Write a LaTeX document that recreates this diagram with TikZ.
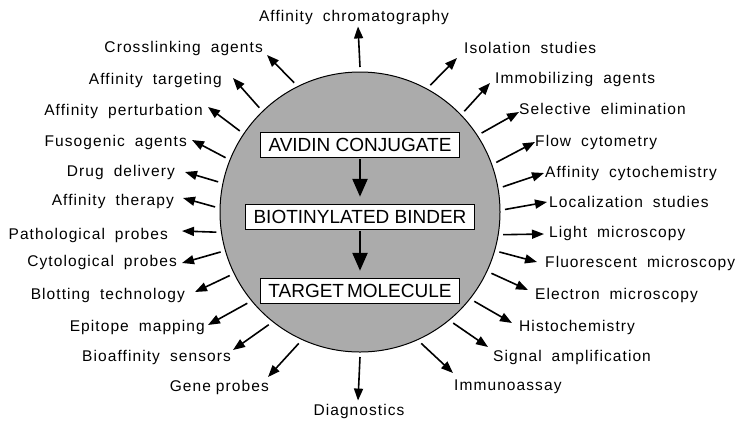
\documentclass[tikz,border=0pt]{standalone}
\usepackage{fontspec}
\usepackage{tikz}
\usetikzlibrary{arrows.meta}
\newfontfamily\lblfam{Liberation Sans}[LetterSpace=7,Ligatures=NoCommon]
\newfontfamily\boxfam{Liberation Sans}
\newcommand\lblfont{\lblfam\fontsize{15.5bp}{18bp}\selectfont\spaceskip=10bp\relax}
\newcommand\boxfont{\boxfam\fontsize{19bp}{22bp}\selectfont}
\begin{document}
\begin{tikzpicture}[x=1bp,y=-1bp,
  lbl/.style={inner sep=0pt,font=\lblfont},
  ray/.style={line width=1.6bp,-{Triangle[length=12bp,width=9bp]}},
  stage/.style={draw,line width=1.5bp,fill=white,inner xsep=8bp,inner ysep=0pt,minimum height=25bp,font=\boxfont},
  flow/.style={line width=2.5bp,-{Triangle[length=18bp,width=15bp]},shorten >=7bp,shorten <=1bp}]
\useasboundingbox (0,0) rectangle (744,420);
\node[circle,draw,line width=1bp,fill=black!33,minimum size=280bp,inner sep=0pt,outer sep=5bp](hub) at (360,212){};
\node[stage,minimum width=197bp](avidin) at (360,145){AVIDIN CONJUGATE};
\node[stage,minimum width=229bp](binder) at (360,217){BIOTINYLATED BINDER};
\node[stage,minimum width=197bp](target) at (360,291){TARGET\hspace{3bp}MOLECULE};
\draw[flow](avidin)--(binder);
\draw[flow](binder)--(target);
\node[lbl](chr) at (354,17){Affinity chromatography};
\node[lbl](dia) at (359,411){Diagnostics};
\draw[ray](hub.90)--([shift={(4,2)}]chr.south);
\draw[ray](hub.270)--([shift={(-1,-3)}]dia.north);
\node[lbl,anchor=east](crl) at (263,48){Crosslinking agents};
\node[lbl,anchor=east](atg) at (222,80){Affinity targeting};
\node[lbl,anchor=east](apt) at (203,111){Affinity perturbation};
\node[lbl,anchor=east](fus) at (187,142){Fusogenic agents};
\node[lbl,anchor=east](drg) at (175,172){Drug delivery};
\node[lbl,anchor=east](ath) at (174,201){Affinity therapy};
\node[lbl,anchor=east](pth) at (168,235){Pathological probes};
\node[lbl,anchor=east](cyt) at (177,262){Cytological probes};
\node[lbl,anchor=east](blt) at (185,295){Blotting technology};
\node[lbl,anchor=east](epi) at (205,327){Epitope mapping};
\node[lbl,anchor=east](bio) at (231,357){Bioaffinity sensors};
\node[lbl,anchor=east](gen) at (269,387){Gene\hspace{5bp}probes};
\draw[ray](hub.117)--([shift={(4,7)}]crl.east);
\draw[ray](hub.134)--([shift={(11,-2)}]atg.east);
\draw[ray](hub.146)--([shift={(5,-4)}]apt.east);
\draw[ray](hub.158)--([shift={(5,-2)}]fus.east);
\draw[ray](hub.168)--([shift={(10,0)}]drg.east);
\draw[ray](hub.178)--([shift={(9,-3)}]ath.east);
\draw[ray](hub.188)--([shift={(14,-4)}]pth.east);
\draw[ray](hub.196)--([shift={(5,1)}]cyt.east);
\draw[ray](hub.206)--([shift={(10,-3)}]blt.east);
\draw[ray](hub.219)--([shift={(3,-2)}]epi.east);
\draw[ray](hub.231)--([shift={(2,-7)}]bio.east);
\draw[ray](hub.245)--([shift={(-1,-10)}]gen.east);
\node[lbl,anchor=west](iso) at (464,48){Isolation studies};
\node[lbl,anchor=west](imm) at (495,79){Immobilizing agents};
\node[lbl,anchor=west](sel) at (519,109){Selective elimination};
\node[lbl,anchor=west](flw) at (535,142){Flow cytometry};
\node[lbl,anchor=west](acy) at (545,173){Affinity cytochemistry};
\node[lbl,anchor=west](loc) at (549,202){Localization studies};
\node[lbl,anchor=west](lgt) at (549,233){Light microscopy};
\node[lbl,anchor=west](flu) at (545,263){Fluorescent microscopy};
\node[lbl,anchor=west](ele) at (535,295){Electron microscopy};
\node[lbl,anchor=west](his) at (519,327){Histochemistry};
\node[lbl,anchor=west](sig) at (493,357){Signal amplification};
\node[lbl,anchor=west](imu) at (454,387){Immunoassay};
\draw[ray](hub.61)--([shift={(-7,10)}]iso.west);
\draw[ray](hub.44)--([shift={(-5,4)}]imm.west);
\draw[ray](hub.33)--([shift={(0,3)}]sel.west);
\draw[ray](hub.20)--([shift={(0,0)}]flw.west);
\draw[ray](hub.10)--([shift={(-1,0)}]acy.west);
\draw[ray](hub.1)--([shift={(-2,0)}]loc.west);
\draw[ray](hub.351)--([shift={(-5,1)}]lgt.west);
\draw[ray](hub.344)--([shift={(-8,-1)}]flu.west);
\draw[ray](hub.335)--([shift={(-7,-5)}]ele.west);
\draw[ray](hub.322)--([shift={(-7,-4)}]his.west);
\draw[ray](hub.310)--([shift={(-5,-10)}]sig.west);
\draw[ray](hub.295)--([shift={(-1,-14)}]imu.west);
\end{tikzpicture}
\end{document}
